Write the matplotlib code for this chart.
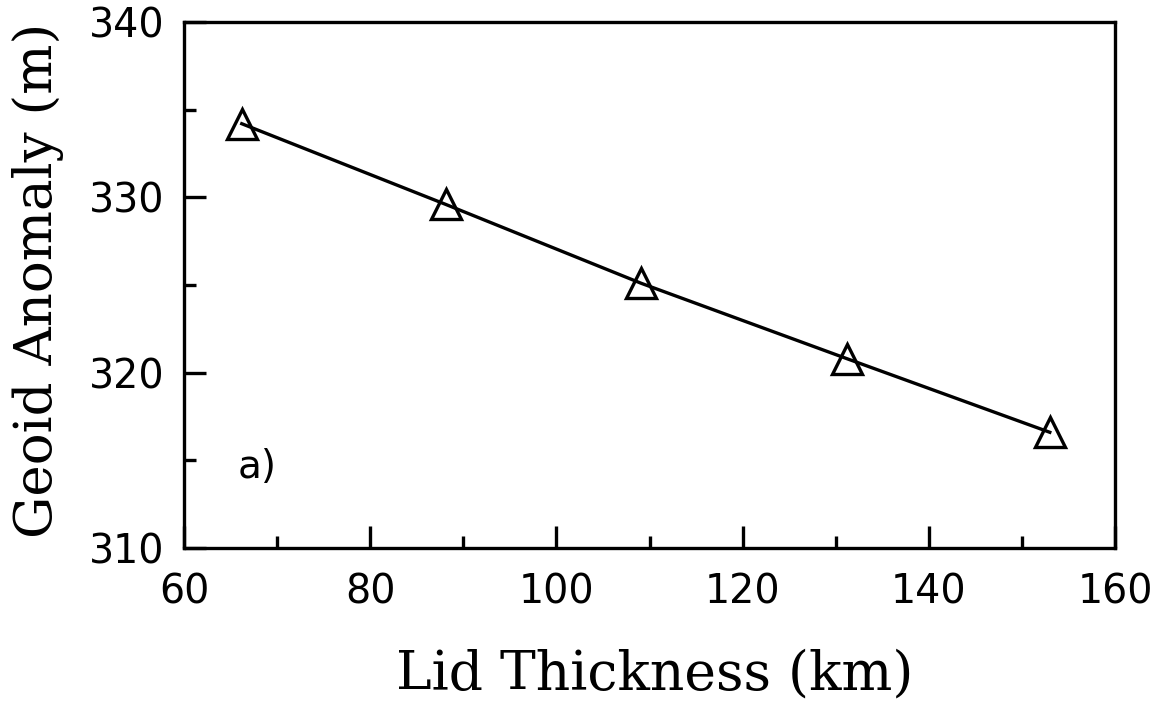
import numpy as np
import matplotlib.pyplot as plt
from matplotlib.ticker import MultipleLocator

# lid thickness (km) vs geoid anomaly (m)
lid_km = [66.2, 88.1, 109.1, 131.2, 153.0]
geoid_m = [334.2, 329.6, 325.1, 320.8, 316.6]

fig = plt.figure(figsize=(11.59, 7.06), dpi=100)
ax = fig.add_axes([0.1588, 0.2238, 0.8032, 0.745])

ax.plot(lid_km, geoid_m, color='black', lw=2.4, marker='^', ms=21,
        mfc='none', mec='black', mew=2.4)

ax.set_xlim(60, 160)
ax.set_ylim(310, 340)
ax.xaxis.set_major_locator(MultipleLocator(20))
ax.xaxis.set_minor_locator(MultipleLocator(10))
ax.yaxis.set_major_locator(MultipleLocator(10))
ax.yaxis.set_minor_locator(MultipleLocator(5))

for s in ax.spines.values():
    s.set_linewidth(2.4)
ax.tick_params(which='both', direction='in', top=False, right=False, width=2.4)
ax.tick_params(which='major', length=16)
ax.tick_params(which='minor', length=8.5)
ax.tick_params(axis='x', which='major', pad=18, labelsize=28.5)
ax.tick_params(axis='y', which='major', pad=14, labelsize=28.5)
for lab in ax.get_xticklabels() + ax.get_yticklabels():
    lab.set_family('DejaVu Sans')
    lab.set_fontweight('medium')

ax.text(65.8, 314.6, 'a)', fontsize=28, family='DejaVu Sans', va='center')

fig.text(0.565, 0.045, 'Lid Thickness (km)', fontsize=38.6, family='DejaVu Serif',
         ha='center', va='center')
fig.text(0.033, 0.603, 'Geoid Anomaly (m)', fontsize=38.2, family='DejaVu Serif',
         ha='center', va='center', rotation=90)

fig.savefig('out.png', dpi=100, facecolor='white')
